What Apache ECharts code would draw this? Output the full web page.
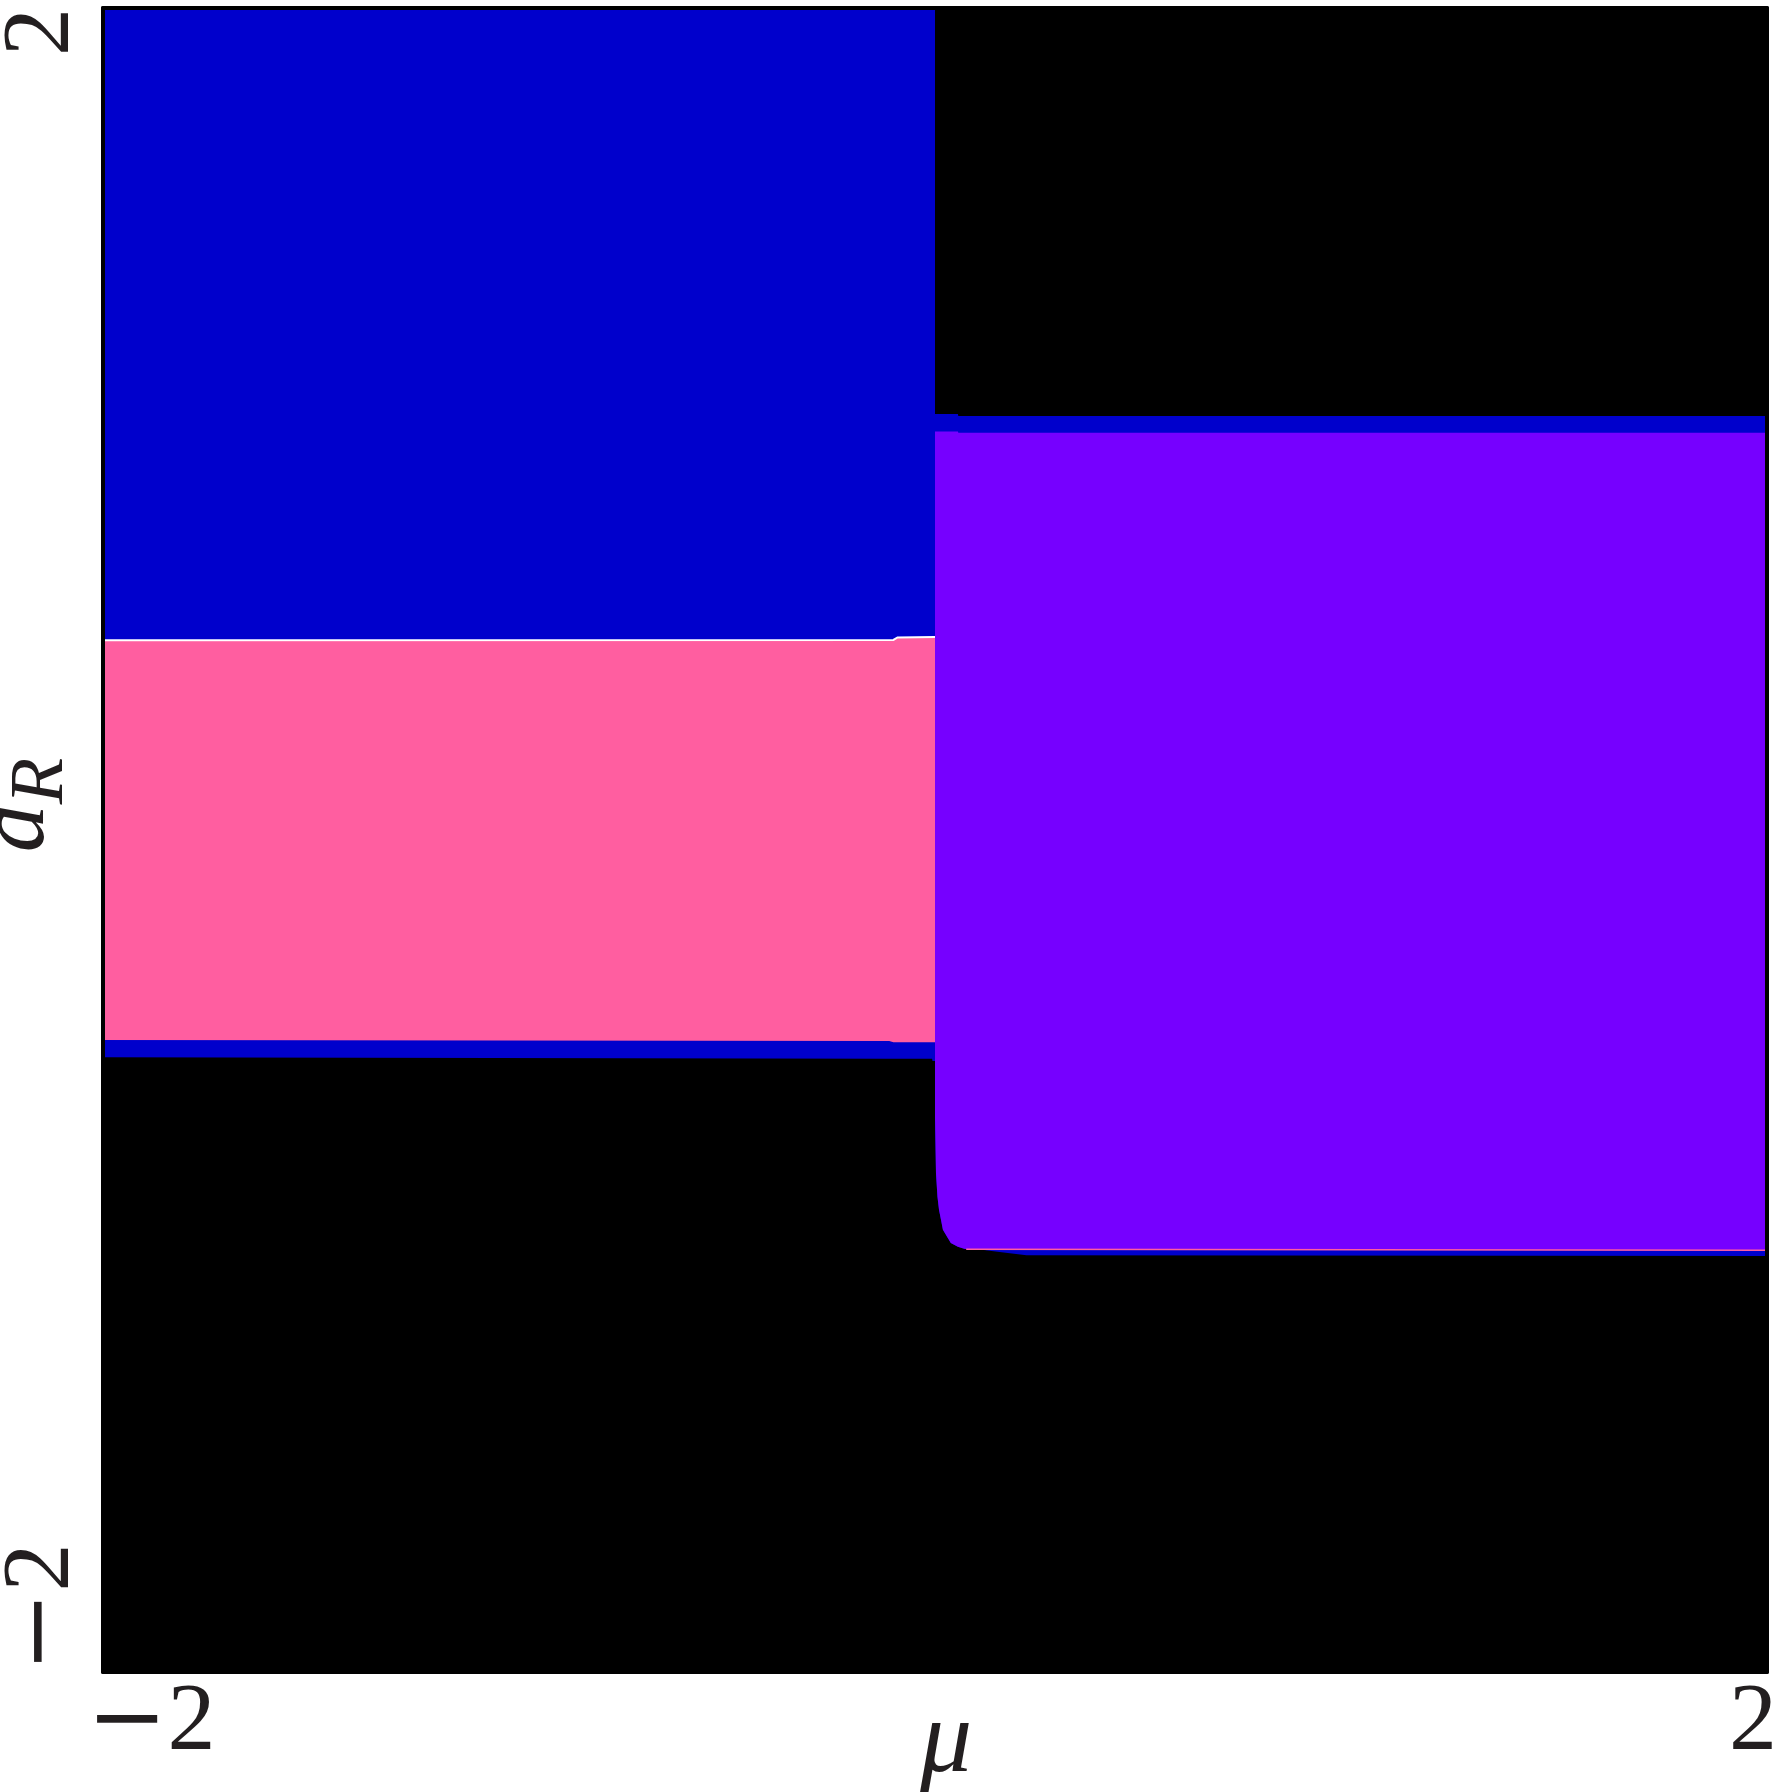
<!DOCTYPE html>
<html><head><meta charset="utf-8">
<script src="https://cdn.jsdelivr.net/npm/echarts@6/dist/echarts.min.js"></script>
<style>html,body{margin:0;padding:0;background:#fff}#c{width:1775px;height:1792px}</style>
</head><body><div id="c"></div>
<script>
// axis ranges and ticks
const xRange = [-2, 2];
const yRange = [-2, 2];
const tickInterval = 4;
const xTickLabels = {'-2': '{m|−}{d|2}', '2': '{d|2}'};
const yTickLabels = {'-2': '{m|−}{d|2}', '2': '{d|2}'};
const xName = 'μ';
const yNameMain = 'a';
const yNameSub = 'R';

// region boundaries, points are [mu, a_R]
const fullSquare = [[-2, -2], [2, -2], [2, 2], [-2, 2]];
const leftBlueLowerEdge = [[-2, 0.480], [-0.10, 0.481], [-0.09, 0.487], [0, 0.488]];
const leftPinkLowerEdge = [[-2, -0.481], [-0.11, -0.483], [-0.10, -0.486], [0, -0.486]];
const leftBandLowerEdge = [[-2, -0.522], [-0.11, -0.526], [-0.007, -0.526], [-0.006, -0.531], [0, -0.531]];
const leftTopEdge = [[-2, 2], [0, 2]];
const rightBlackLowerEdge = [[0, 1.024], [0.055, 1.024], [0.056, 1.019], [2, 1.019]];
const rightBandLowerEdge = [[0, 0.982], [0.055, 0.982], [0.056, 0.979], [2, 0.979]];
const rightPurpleLowerEdge = [[0, -0.666], [0.0024, -0.801], [0.006, -0.858], [0.0096, -0.889], [0.0144, -0.913],
  [0.019, -0.937], [0.029, -0.954], [0.038, -0.969], [0.055, -0.978], [0.072, -0.983], [0.113, -0.984], [2, -0.986]];
const rightBlueLowerEdge = [[0, -0.666], [0.0024, -0.801], [0.006, -0.858], [0.0096, -0.889], [0.0144, -0.913],
  [0.019, -0.937], [0.029, -0.954], [0.038, -0.969], [0.055, -0.978], [0.072, -0.983], [0.113, -0.985],
  [0.15, -0.990], [0.22, -0.998], [2, -1.000]];
const pinkRimLine = [[0.075, -0.984], [2, -0.986]];

const BLACK = '#000000', BLUE = '#0000cc', PINK = '#ff5ea0', PURPLE = '#7600ff';

function bandPoints(lower, upper) {
  return lower.concat(upper.slice().reverse());
}
function polygonSeries(name, points, color) {
  return {
    type: 'custom', name: name, coordinateSystem: 'cartesian2d', data: [[0, 0]],
    silent: true, animation: false, clip: true,
    renderItem: function (params, api) {
      return { type: 'polygon', shape: { points: points.map(p => api.coord(p)) }, style: { fill: color } };
    }
  };
}
function lineSeries(name, points, color, width) {
  return {
    type: 'custom', name: name, coordinateSystem: 'cartesian2d', data: [[0, 0]],
    silent: true, animation: false, clip: true,
    renderItem: function (params, api) {
      return { type: 'polyline', shape: { points: points.map(p => api.coord(p)) }, style: { stroke: color, lineWidth: width, fill: null } };
    }
  };
}

const chart = echarts.init(document.getElementById('c'), null, { renderer: 'canvas' });
const labelFont = 'Liberation Serif';
const textColor = '#231f20';
const tickRich = {
  m: { fontFamily: 'DejaVu Serif', fontSize: 96, color: textColor },
  d: { fontFamily: labelFont, fontSize: 96, color: textColor }
};
const baseAxis = {
  type: 'value', min: xRange[0], max: xRange[1], interval: tickInterval,
  axisLine: { show: true, onZero: false, lineStyle: { color: '#000', width: 4 } },
  axisTick: { show: false }, splitLine: { show: false }, z: 10
};
chart.setOption({
  backgroundColor: '#ffffff',
  animation: false,
  grid: { left: 103, right: 8, top: 8, bottom: 120, containLabel: false, outerBoundsMode: 'none' },
  xAxis: [
    Object.assign({}, baseAxis, {
      position: 'bottom',
      axisLabel: {
        show: true, showMinLabel: true, showMaxLabel: true, hideOverlap: false,
        formatter: v => xTickLabels[String(v)] || '',
        fontSize: 96, fontFamily: labelFont, color: textColor, margin: 4,
        padding: [0, -10, 0, -16],
        alignMinLabel: 'left', alignMaxLabel: 'right', rich: tickRich
      },
      name: xName, nameLocation: 'middle', nameGap: 20, nameMoveOverlap: false,
      nameTextStyle: { fontSize: 104, fontFamily: labelFont, fontStyle: 'italic', color: textColor,
        verticalAlign: 'top', padding: [0, 0, 0, 22] }
    }),
    Object.assign({}, baseAxis, { position: 'top', axisLabel: { show: false } })
  ],
  yAxis: [
    Object.assign({}, baseAxis, {
      min: yRange[0], max: yRange[1],
      position: 'left',
      axisLabel: {
        show: true, showMinLabel: true, showMaxLabel: true, rotate: 90, hideOverlap: false,
        formatter: v => yTickLabels[String(v)] || '',
        fontSize: 96, fontFamily: labelFont, color: textColor, margin: 12,
        alignMinLabel: 'left', alignMaxLabel: 'right', rich: tickRich
      },
      name: '{m|' + yNameMain + '}{s|' + yNameSub + '}',
      nameLocation: 'middle', nameGap: 37, nameRotate: 90, nameMoveOverlap: false,
      nameTextStyle: {
        color: textColor, padding: [0, 0, 0, 70],
        rich: {
          m: { fontSize: 96, fontFamily: labelFont, fontStyle: 'italic', color: textColor, lineHeight: 96 },
          s: { fontSize: 76, fontFamily: labelFont, fontStyle: 'italic', color: textColor, lineHeight: 76, padding: [48, 0, 0, 0] }
        }
      }
    }),
    Object.assign({}, baseAxis, { min: yRange[0], max: yRange[1], position: 'right', axisLabel: { show: false } })
  ],
  series: [
    polygonSeries('no solution', fullSquare, BLACK),
    polygonSeries('left blue', bandPoints(leftBandLowerEdge, leftTopEdge), BLUE),
    polygonSeries('left pink', bandPoints(leftPinkLowerEdge, leftBlueLowerEdge), PINK),
    lineSeries('left rim', leftBlueLowerEdge, '#ffffff', 2),
    polygonSeries('right blue', bandPoints(rightBlueLowerEdge, rightBlackLowerEdge), BLUE),
    polygonSeries('right purple', bandPoints(rightPurpleLowerEdge, rightBandLowerEdge), PURPLE),
    lineSeries('right rim', pinkRimLine, PINK, 1.5)
  ]
});
</script>
</body></html>
